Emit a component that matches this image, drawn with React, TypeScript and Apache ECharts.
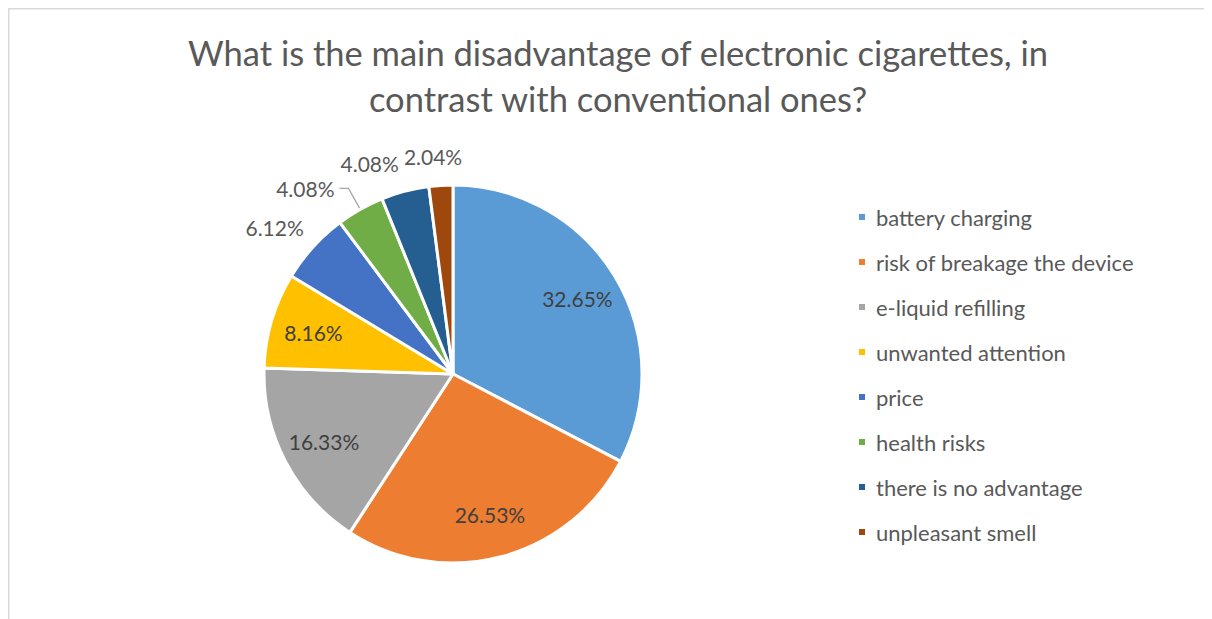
import React, { useEffect, useRef } from "react";
import * as echarts from "echarts";

const categories = [
  "battery charging",
  "risk of breakage the device",
  "e-liquid refilling",
  "unwanted attention",
  "price",
  "health risks",
  "there is no advantage",
  "unpleasant smell",
];
const counts = [16, 13, 8, 4, 3, 2, 2, 1];
const colors = ["#5B9BD5", "#ED7D31", "#A5A5A5", "#FFC000", "#4472C4", "#70AD47", "#255E91", "#9E480E"];
const titleText = "What is the main disadvantage of electronic cigarettes, in\ncontrast with conventional ones?";

const innerLabelIdx = [0, 1, 2, 3];
const outerLabelIdx = [4, 6, 7];
const leaderLabelIdx = [5];
const outerOffsets: Record<number, number[]> = { 4: [-17, 0], 6: [-28, 0], 7: [-6, 0] };

const FONT = "Lato, 'Open Sans', sans-serif";

export default function App() {
  const ref = useRef<HTMLDivElement>(null);
  useEffect(() => {
    if (!ref.current) return;
    const chart = echarts.init(ref.current, undefined, { renderer: "svg" });
    const total = counts.reduce((a, b) => a + b, 0);
    const pct = (v: number) => ((v / total) * 100).toFixed(2) + "%";
    const center = [445, 366];

    const mainData = categories.map((name, i) => ({
      name,
      value: counts[i],
      itemStyle: { color: colors[i] },
      label: leaderLabelIdx.includes(i) ? { show: true, position: "outside" } : { show: false },
      labelLine: { show: leaderLabelIdx.includes(i) },
    }));
    const innerData = categories.map((name, i) => ({
      name,
      value: counts[i],
      label: { show: innerLabelIdx.includes(i) },
    }));
    const outerData = categories.map((name, i) => ({
      name,
      value: counts[i],
      label: { show: outerLabelIdx.includes(i), offset: outerOffsets[i] || [0, 0] },
    }));

    const labelText = {
      fontFamily: FONT,
      fontSize: 21,
      color: "#404040",
      formatter: (p: any) => pct(p.value),
    };

    chart.setOption({
      animation: false,
      backgroundColor: "#ffffff",
      title: {
        text: titleText,
        left: 605,
        top: 16,
        textAlign: "center",
        textStyle: {
          fontFamily: FONT,
          fontSize: 34.5,
          fontWeight: "normal",
          color: "#595959",
          lineHeight: 46,
        },
      },
      legend: {
        orient: "vertical",
        left: 844,
        top: 193,
        icon: "rect",
        itemWidth: 8,
        itemHeight: 8,
        itemGap: 23,
        data: categories,
        textStyle: {
          fontFamily: FONT,
          fontSize: 22,
          color: "#595959",
          lineHeight: 22,
          padding: [0, 0, 0, 5],
        },
      },
      graphic: [
        {
          type: "rect",
          shape: { x: 0.75, y: 0.75, width: 3000, height: 3000 },
          style: { fill: "none", stroke: "#d9d9d9", lineWidth: 1.5 },
          silent: true,
        },
      ],
      series: [
        {
          type: "pie",
          name: "main",
          center,
          radius: [0, 189],
          startAngle: 90,
          clockwise: true,
          avoidLabelOverlap: false,
          silent: true,
          itemStyle: { borderColor: "#ffffff", borderWidth: 3 },
          label: { ...labelText, color: "#595959" },
          labelLine: { length: 24, length2: 9, lineStyle: { color: "#a6a6a6", width: 1.3 } },
          data: mainData,
        },
        {
          type: "pie",
          name: "innerLabels",
          center,
          radius: [125, 160],
          startAngle: 90,
          clockwise: true,
          avoidLabelOverlap: false,
          silent: true,
          itemStyle: { color: "rgba(0,0,0,0)", borderWidth: 0 },
          label: { ...labelText, position: "inside" },
          labelLine: { show: false },
          data: innerData,
        },
        {
          type: "pie",
          name: "outerLabels",
          center,
          radius: [205, 225],
          startAngle: 90,
          clockwise: true,
          avoidLabelOverlap: false,
          silent: true,
          itemStyle: { color: "rgba(0,0,0,0)", borderWidth: 0 },
          label: { ...labelText, color: "#595959", position: "inside" },
          labelLine: { show: false },
          data: outerData,
        },
      ],
    });
    return () => chart.dispose();
  }, []);
  return <div ref={ref} style={{ width: 1204, height: 611 }} />;
}
